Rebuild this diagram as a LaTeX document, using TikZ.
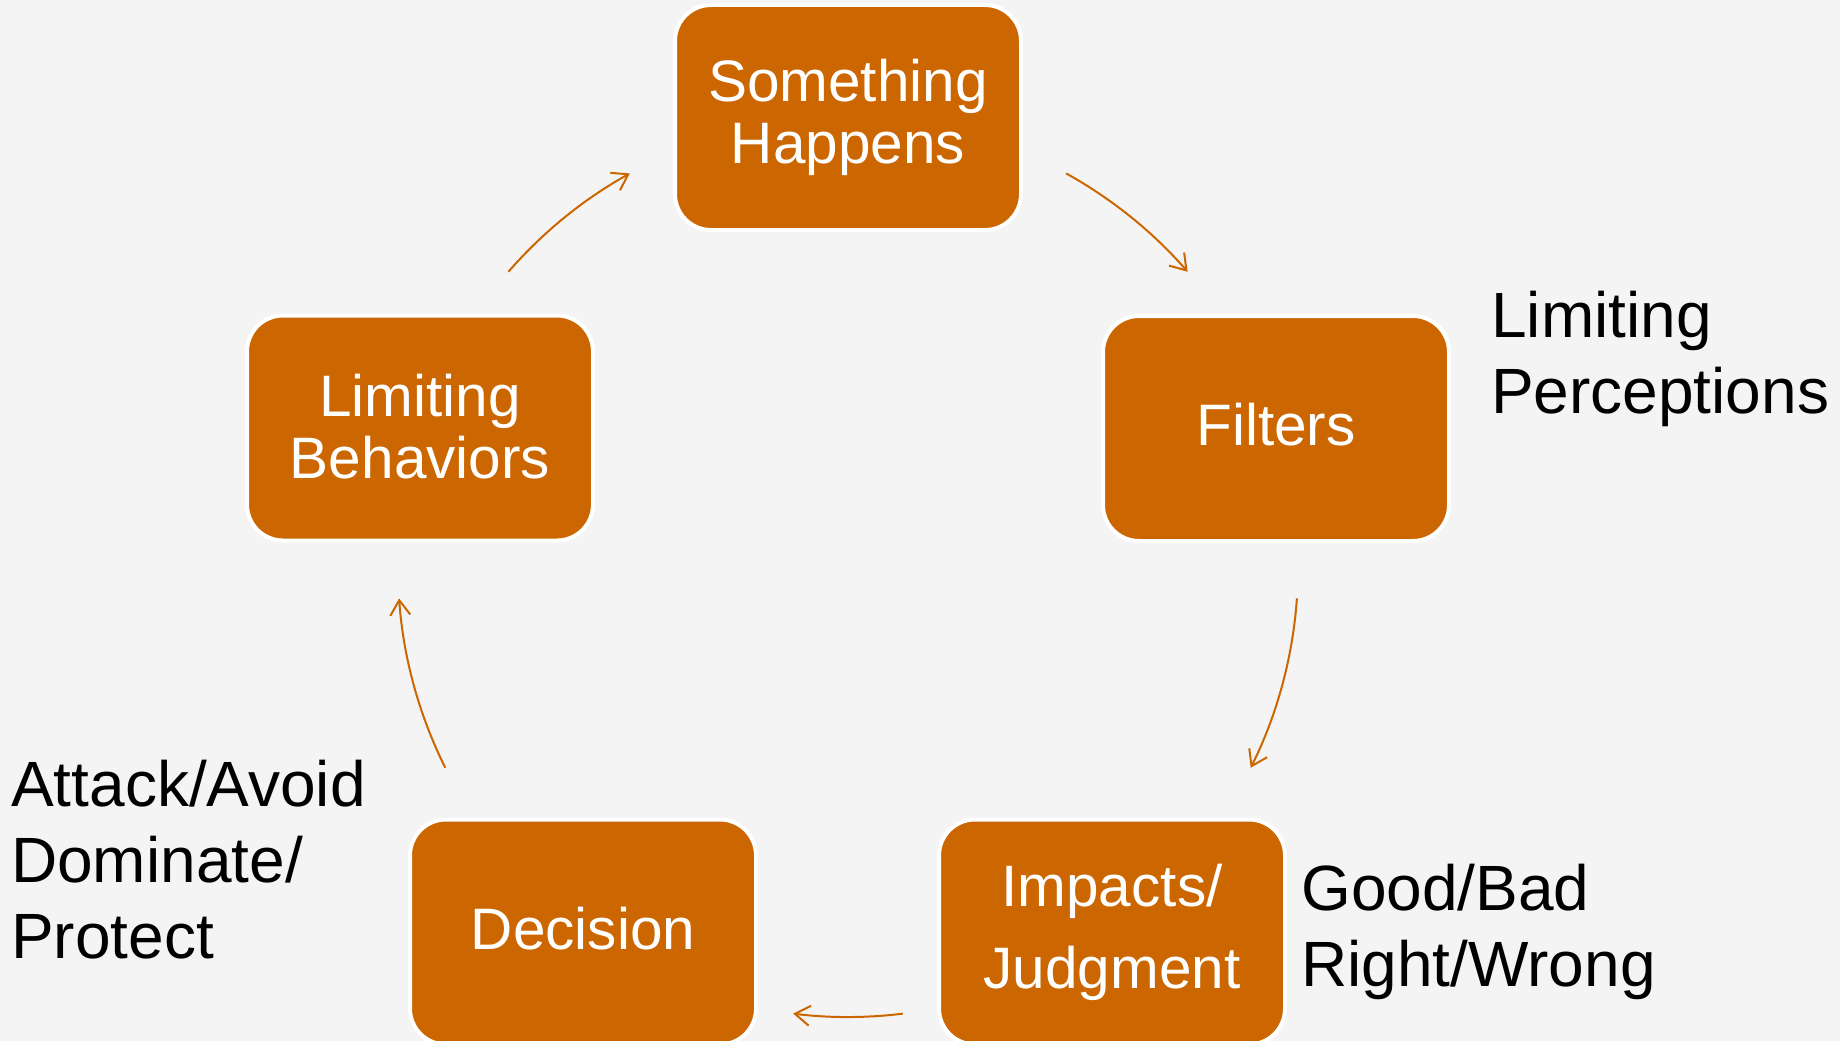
\documentclass[tikz,border=0pt]{standalone}
\usepackage{fontspec}
\setmainfont{Liberation Sans}
\usetikzlibrary{arrows.meta,calc}
\definecolor{boxorange}{HTML}{CC6600}
\definecolor{bgray}{HTML}{F4F4F4}
\tikzset{
  cyclebox/.style={rectangle, rounded corners=36pt, fill=boxorange, draw=white,
    line width=4pt, minimum width=346pt, minimum height=225pt, inner sep=0pt,
    text=white, align=center, font=\fontsize{58.5}{62}\selectfont},
  cyclearrow/.style={draw=boxorange, line width=2pt,
    -{Straight Barb[length=15pt,width=20pt,line width=2pt]}},
  sidetext/.style={anchor=north west, inner sep=0pt, align=left, text=black,
    font=\fontsize{64}{76}\selectfont}
}
\begin{document}
\begin{tikzpicture}[x=1pt,y=1pt]
\fill[bgray] (0,0) rectangle (1840,-1041);
\useasboundingbox (0,0) rectangle (1840,-1041);
\coordinate (c) at (848,-567);
\node[cyclebox] (sh) at (848,-117.5) {Something\\Happens};
\node[cyclebox, text depth=8pt] (fi) at (1276,-428.5) {Filters};
\node[cyclebox, font=\fontsize{58.5}{82}\selectfont] (ij) at (1112,-932) {Impacts/\\Judgment};
\node[cyclebox, text depth=8pt] (de) at (583,-932) {Decision};
\node[cyclebox, text depth=4pt] (lb) at (420,-428) {Limiting\\Behaviors};
\draw[cyclearrow] ($(c)+(61:450)$) arc[start angle=61, end angle=41, radius=450];
\draw[cyclearrow] ($(c)+(-4:450)$) arc[start angle=-4, end angle=-26.5, radius=450];
\draw[cyclearrow] ($(c)+(-83:450)$) arc[start angle=-83, end angle=-97, radius=450];
\draw[cyclearrow] ($(c)+(-153.5:450)$) arc[start angle=-153.5, end angle=-176, radius=450];
\draw[cyclearrow] ($(c)+(139:450)$) arc[start angle=139, end angle=119, radius=450];
\node[sidetext] (lp) at (1491,-291) {Limiting\\Perceptions};
\node[sidetext] (aa) at (11,-760) {Attack/Avoid\\Dominate/\\Protect};
\node[sidetext] (gb) at (1301,-864) {Good/Bad\\Right/Wrong};
\end{tikzpicture}
\end{document}
